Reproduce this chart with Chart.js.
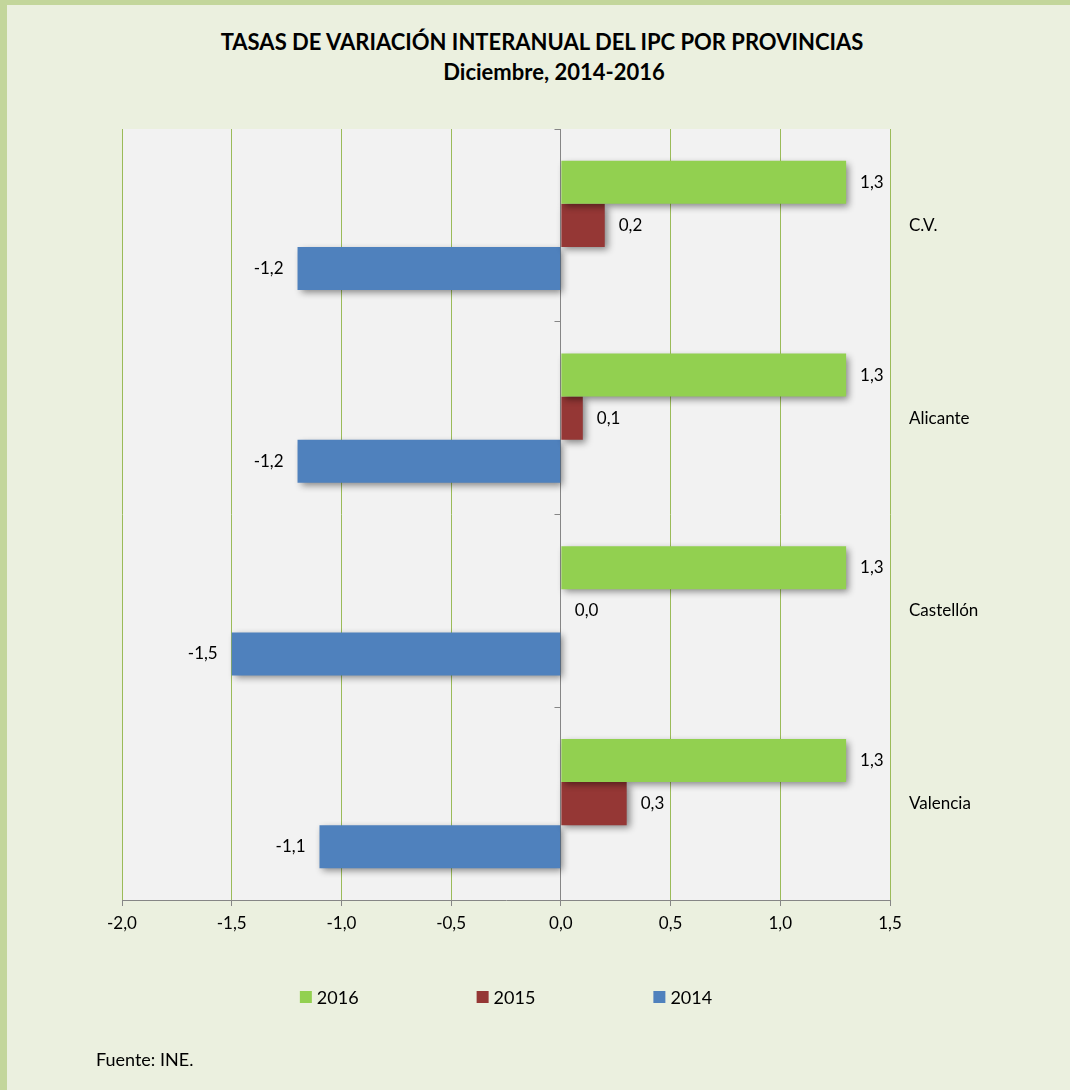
<!DOCTYPE html>
<html>
<head>
<meta charset="utf-8">
<script src="https://cdn.jsdelivr.net/npm/chart.js@4.4.1/dist/chart.umd.min.js"></script>
<style>
    html, body { margin: 0; padding: 0; }
    body { width: 1070px; height: 1090px; overflow: hidden; }
    .frame {
        position: absolute; left: 0; top: 0;
        width: 1063px; height: 1085px;
        background: #ebf0df;
        border-left: 7px solid #c3d69b;
        border-top: 5px solid #c3d69b;
    }
    #chart { position: absolute; left: 0; top: 0; }
    .title {
        position: absolute; left: 0; top: 27px; width: 1084px;
        text-align: center;
        font: bold 22px Lato, sans-serif; line-height: 30px; color: #000;
    }
    .title span { position: relative; left: 12px; }
    .source {
        position: absolute; left: 96px; top: 1048px;
        font: 18px Lato, sans-serif; color: #000;
    }
</style>
</head>
<body>
<div class="frame"></div>
<div class="title">TASAS DE VARIACIÓN INTERANUAL DEL IPC POR PROVINCIAS<br><span>Diciembre, 2014-2016</span></div>
<canvas id="chart" width="1070" height="1090"></canvas>
<div class="source">Fuente: INE.</div>
<script>
// Data
const provincias = ['C.V.', 'Alicante', 'Castellón', 'Valencia'];
const years = ['2016', '2015', '2014'];
const ipc2016 = [1.3, 1.3, 1.3, 1.3];
const ipc2015 = [0.2, 0.1, 0.0, 0.3];
const ipc2014 = [-1.2, -1.2, -1.5, -1.1];
const xTicks = [-2.0, -1.5, -1.0, -0.5, 0.0, 0.5, 1.0, 1.5];
const colors = ['#92d050', '#953735', '#4f81bd'];

const fmt = v => v.toFixed(1).replace('.', ',');
const FONT = 'Lato, "Open Sans", sans-serif';

// plot background, zero axis, shadows, value labels, legend
const decoPlugin = {
    id: 'deco',
    beforeDraw(chart) {
        const { ctx, chartArea: a } = chart;
        ctx.save();
        ctx.fillStyle = '#f2f2f2';
        ctx.fillRect(a.left, a.top, a.right - a.left, a.bottom - a.top);
        ctx.restore();
    },
    beforeDatasetsDraw(chart) {
        const { ctx, chartArea: a, scales: { x, y } } = chart;

        // vertical axis at zero with small tick marks between categories
        const x0 = Math.round(x.getPixelForValue(0) - 0.5) + 0.5;
        ctx.save();
        ctx.strokeStyle = '#868686';
        ctx.lineWidth = 1;
        ctx.beginPath();
        ctx.moveTo(x0, a.top);
        ctx.lineTo(x0, a.bottom);
        for (let i = 0; i < provincias.length; i++) {
            const yy = Math.round(y.getPixelForValue(i - 0.5) - 0.5) + 0.5;
            ctx.moveTo(x0 - 6, yy);
            ctx.lineTo(x0, yy);
        }
        ctx.stroke();
        ctx.restore();

        ctx.save();
        ctx.shadowColor = 'rgba(0,0,0,0.45)';
        ctx.shadowBlur = 7;
        ctx.shadowOffsetX = 3;
        ctx.shadowOffsetY = 3;
    },
    afterDatasetsDraw(chart) {
        const { ctx } = chart;
        ctx.restore();

        // value labels
        ctx.save();
        ctx.font = '17px ' + FONT;
        ctx.fillStyle = '#000';
        ctx.textBaseline = 'middle';
        chart.data.datasets.forEach((ds, di) => {
            const meta = chart.getDatasetMeta(di);
            meta.data.forEach((bar, i) => {
                const v = ds.data[i];
                if (v < 0) {
                    ctx.textAlign = 'right';
                    ctx.fillText(fmt(v), bar.x - 14, bar.y);
                } else {
                    ctx.textAlign = 'left';
                    ctx.fillText(fmt(v), bar.x + 14, bar.y);
                }
            });
        });
        ctx.restore();

        // legend
        const a = chart.chartArea;
        ctx.save();
        ctx.font = '18px ' + FONT;
        ctx.textBaseline = 'middle';
        ctx.textAlign = 'left';
        const gap = 118, box = 12;
        const widths = chart.data.datasets.map(ds => box + 5 + ctx.measureText(ds.label).width);
        const total = widths.reduce((s, w) => s + w, 0) + gap * (widths.length - 1);
        let lx = (a.left + a.right) / 2 - total / 2;
        const ly = 997;
        chart.data.datasets.forEach((ds, di) => {
            ctx.fillStyle = ds.backgroundColor;
            ctx.fillRect(lx, ly - 6, box, box);
            ctx.fillStyle = '#000';
            ctx.fillText(ds.label, lx + box + 5, ly + 1);
            lx += widths[di] + gap;
        });
        ctx.restore();
    }
};

new Chart(document.getElementById('chart'), {
    type: 'bar',
    data: {
        labels: provincias,
        datasets: [
            { label: years[0], data: ipc2016, backgroundColor: colors[0] },
            { label: years[1], data: ipc2015, backgroundColor: colors[1] },
            { label: years[2], data: ipc2014, backgroundColor: colors[2] }
        ]
    },
    options: {
        indexAxis: 'y',
        responsive: false,
        animation: false,
        devicePixelRatio: 1,
        barPercentage: 1,
        categoryPercentage: 0.67,
        layout: { padding: { left: 122, right: 0, top: 129, bottom: 150 } },
        plugins: {
            legend: { display: false },
            tooltip: { enabled: false },
            title: { display: false }
        },
        scales: {
            x: {
                min: -2,
                max: 1.5,
                afterBuildTicks: s => { s.ticks = xTicks.map(v => ({ value: v })); },
                afterFit: s => { s.height = 40; },
                grid: {
                    color: '#9bbb59',
                    lineWidth: 1,
                    tickColor: '#868686',
                    tickLength: 6
                },
                border: { display: true, color: '#868686', width: 1 },
                ticks: {
                    color: '#000',
                    padding: 7,
                    font: { family: FONT, size: 17 },
                    callback: v => fmt(v)
                }
            },
            y: {
                position: 'right',
                afterFit: s => { s.width = 180; },
                grid: { display: false },
                border: { display: false },
                ticks: {
                    color: '#000',
                    padding: 11,
                    crossAlign: 'near',
                    font: { family: FONT, size: 17 }
                }
            }
        }
    },
    plugins: [decoPlugin]
});
</script>
</body>
</html>
